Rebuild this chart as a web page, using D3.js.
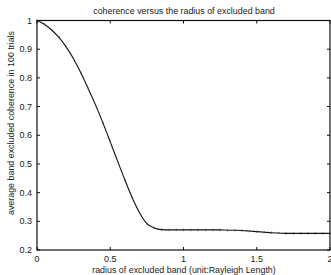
<!DOCTYPE html>
<html><head><meta charset="utf-8">
<script src="https://cdn.jsdelivr.net/npm/d3@7"></script>
<style>body{margin:0;background:#fff;overflow:hidden}svg{display:block}text{font-family:"Liberation Sans",Arial,sans-serif;fill:#222}</style>
</head><body>
<script>
const radius = [0,0.05,0.1,0.15,0.2,0.25,0.3,0.35,0.4,0.45,0.5,0.55,0.6,0.65,0.7,0.75,0.8,0.85,0.9,0.95,1,1.05,1.1,1.15,1.2,1.25,1.3,1.35,1.4,1.45,1.5,1.55,1.6,1.65,1.7,1.75,1.8,1.85,1.9,1.95,2];
const coherence = [1.000,0.987,0.967,0.941,0.907,0.866,0.817,0.762,0.705,0.643,0.577,0.510,0.444,0.382,0.330,0.292,0.277,0.271,0.270,0.270,0.270,0.270,0.270,0.270,0.270,0.270,0.269,0.269,0.268,0.266,0.264,0.262,0.260,0.259,0.258,0.258,0.258,0.258,0.258,0.258,0.258];
const xTicks = [0,0.5,1,1.5,2];
const xTickLabels = ["0","0.5","1","1.5","2"];
const yTicks = [0.2,0.3,0.4,0.5,0.6,0.7,0.8,0.9,1];
const yTickLabels = ["0.2","0.3","0.4","0.5","0.6","0.7","0.8","0.9","1"];
const title = "coherence versus the radius of excluded band";
const xLabel = "radius of excluded band (unit:Rayleigh Length)";
const yLabel = "average band excluded coherence in 100 trials";

const W=331,H=275;
const L=37,R=330,T=20.5,B=250;
const x=d3.scaleLinear().domain([0,2]).range([L,R]);
const y=d3.scaleLinear().domain([0.2,1]).range([B,T]);
const svg=d3.select("body").append("svg").attr("width",W).attr("height",H);

const pts=radius.map((r,i)=>[r,coherence[i]]);
svg.append("path").datum(pts)
  .attr("d",d3.line().x(d=>x(d[0])).y(d=>y(d[1])).curve(d3.curveMonotoneX))
  .attr("fill","none").attr("stroke","#111").attr("stroke-width",1.1);
svg.selectAll("line.mk").data(pts).enter().append("line")
  .attr("x1",d=>x(d[0])).attr("x2",d=>x(d[0])).attr("y1",d=>y(d[1])-1.2).attr("y2",d=>y(d[1])+1.2)
  .attr("stroke","#444").attr("stroke-width",0.8);

const g=svg.append("g");
g.append("rect").attr("x",L).attr("y",T).attr("width",R-L).attr("height",B-T)
  .attr("fill","none").attr("stroke","#111").attr("stroke-width",1.2);
const tl=3;
xTicks.forEach(t=>{
  g.append("line").attr("x1",x(t)).attr("x2",x(t)).attr("y1",B).attr("y2",B-tl).attr("stroke","#111");
  g.append("line").attr("x1",x(t)).attr("x2",x(t)).attr("y1",T).attr("y2",T+tl).attr("stroke","#111");
});
yTicks.forEach(t=>{
  g.append("line").attr("x1",L).attr("x2",L+tl).attr("y1",y(t)).attr("y2",y(t)).attr("stroke","#111");
  g.append("line").attr("x1",R).attr("x2",R-tl).attr("y1",y(t)).attr("y2",y(t)).attr("stroke","#111");
});
svg.selectAll("text.xt").data(xTicks).enter().append("text")
  .attr("x",d=>x(d)).attr("y",B+12).attr("text-anchor","middle").attr("font-size",9)
  .text((d,i)=>xTickLabels[i]);
svg.selectAll("text.yt").data(yTicks).enter().append("text")
  .attr("x",L-5).attr("y",d=>y(d)+3).attr("text-anchor","end").attr("font-size",9)
  .text((d,i)=>yTickLabels[i]);
svg.append("text").attr("x",184).attr("y",14).attr("text-anchor","middle").attr("font-size",8.9).text(title);
svg.append("text").attr("x",184).attr("y",273).attr("text-anchor","middle").attr("font-size",8.9).text(xLabel);
svg.append("text").attr("transform","translate(14,123) rotate(-90)").attr("text-anchor","middle").attr("font-size",8.9).text(yLabel);
</script>
</body></html>
